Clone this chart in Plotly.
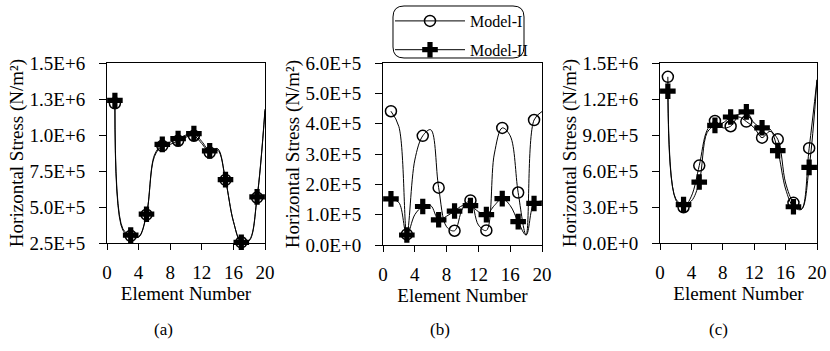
import plotly.graph_objects as go

# ---------------- data ----------------
elements = list(range(1, 21))
x_tick_vals = [0, 4, 8, 12, 16, 20]
x_tick_text = ["0", "4", "8", "12", "16", "20"]

a_model1 = [1.22e6, 3.4e5, 3.0e5, 2.9e5, 4.47e5, 8.5e5, 9.25e5, 9.35e5, 9.6e5, 9.85e5,
            9.95e5, 9.4e5, 8.78e5, 8.95e5, 6.88e5, 4.0e5, 2.55e5, 2.65e5, 5.65e5, 1.17e6]
a_model2 = [1.24e6, 3.5e5, 3.05e5, 2.95e5, 4.5e5, 8.6e5, 9.35e5, 9.5e5, 9.75e5, 1.0e6,
            1.01e6, 9.55e5, 8.9e5, 9.05e5, 6.9e5, 4.0e5, 2.55e5, 2.7e5, 5.7e5, 1.18e6]

b_model1 = [4.41e5, 3.9e5, 3.5e4, 2.8e5, 3.6e5, 3.8e5, 1.89e5, 6.0e4, 4.7e4, 1.2e5,
            1.47e5, 6.6e4, 4.8e4, 3.0e5, 3.86e5, 3.6e5, 1.73e5, 3.3e4, 4.12e5, 4.4e5]
b_model2 = [1.52e5, 1.4e5, 3.3e4, 1.0e5, 1.27e5, 1.3e5, 8.3e4, 9.5e4, 1.12e5, 1.3e5,
            1.3e5, 1.1e5, 1.0e5, 1.3e5, 1.53e5, 1.3e5, 7.7e4, 3.3e4, 1.37e5, 1.45e5]

c_model1 = [1.385e6, 3.6e5, 2.98e5, 3.9e5, 6.45e5, 9.4e5, 1.017e6, 9.6e5, 9.73e5, 1.05e6,
            1.012e6, 9.6e5, 8.78e5, 9.3e5, 8.64e5, 5.0e5, 3.35e5, 2.8e5, 7.9e5, 1.36e6]
c_model2 = [1.265e6, 3.7e5, 3.2e5, 3.5e5, 5.08e5, 9.2e5, 9.8e5, 1.0e6, 1.05e6, 1.07e6,
            1.093e6, 1.0e6, 9.6e5, 9.5e5, 7.7e5, 4.5e5, 3.02e5, 2.8e5, 6.3e5, 1.36e6]

ya_vals = [2.5e5, 5.0e5, 7.5e5, 1.0e6, 1.25e6, 1.5e6]
ya_text = ["2.5E+5", "5.0E+5", "7.5E+5", "1.0E+6", "1.3E+6", "1.5E+6"]
yb_vals = [0, 1e5, 2e5, 3e5, 4e5, 5e5, 6e5]
yb_text = ["0.0E+0", "1.0E+5", "2.0E+5", "3.0E+5", "4.0E+5", "5.0E+5", "6.0E+5"]
yc_vals = [0, 3e5, 6e5, 9e5, 1.2e6, 1.5e6]
yc_text = ["0.0E+0", "3.0E+5", "6.0E+5", "9.0E+5", "1.2E+6", "1.5E+6"]

series_names = ["Model-I", "Model-II"]
panel_labels = ["(a)", "(b)", "(c)"]
x_title = "Element Number"
y_title = "Horizontal Stress (N/m²)"

# ---------------- figure ----------------
W, H = 830, 351
FONT = "Liberation Serif, Times New Roman, DejaVu Serif, serif"

fig = go.Figure()

panels = [
    ("x", "y", a_model1, a_model2),
    ("x2", "y2", b_model1, b_model2),
    ("x3", "y3", c_model1, c_model2),
]

styles = [
    dict(symbol="circle-open", size=11, color="black", line=dict(width=1.5, color="black")),
    dict(symbol="cross", size=13, color="black", line=dict(width=0)),
]

for xa, ya, m1, m2 in panels:
    for k, vals in enumerate([m1, m2]):
        fig.add_trace(go.Scatter(
            x=elements, y=vals, mode="lines", xaxis=xa, yaxis=ya,
            line=dict(color="black", width=1, shape="spline", smoothing=1),
            showlegend=False, hoverinfo="skip"))
        fig.add_trace(go.Scatter(
            x=elements[::2], y=vals[::2], mode="markers", xaxis=xa, yaxis=ya,
            marker=styles[k], cliponaxis=False, showlegend=False,
            name=series_names[k]))

# legend entries
for k, nm in enumerate(series_names):
    fig.add_trace(go.Scatter(
        x=[None], y=[None], mode="lines+markers", name=nm, xaxis="x2", yaxis="y2",
        line=dict(color="black", width=1), marker=styles[k],
        legendgroup=nm, showlegend=True))


def px_dom_x(a, b):
    return [a / W, b / W]


def px_dom_y(top, bottom):
    return [1 - bottom / H, 1 - top / H]


axis_common = dict(
    showline=True, linecolor="black", linewidth=1, mirror=True,
    ticks="outside", tickcolor="black", tickwidth=1,
    showgrid=False, zeroline=False, automargin=False,
    tickfont=dict(family=FONT, size=19, color="black"),
)

xdoms = [px_dom_x(107, 265), px_dom_x(383, 542), px_dom_x(660, 817)]
ydoms = [px_dom_y(63, 243), px_dom_y(63, 245), px_dom_y(63, 243)]
yranges = [[2.5e5, 1.5e6], [0, 6e5], [0, 1.5e6]]
yticks = [(ya_vals, ya_text), (yb_vals, yb_text), (yc_vals, yc_text)]

for i in range(3):
    sx = "xaxis" if i == 0 else f"xaxis{i+1}"
    sy = "yaxis" if i == 0 else f"yaxis{i+1}"
    anchor_x = "y" if i == 0 else f"y{i+1}"
    anchor_y = "x" if i == 0 else f"x{i+1}"
    fig.layout[sx] = dict(
        axis_common, domain=xdoms[i], anchor=anchor_x, range=[0, 20],
        tickvals=x_tick_vals, ticktext=x_tick_text, ticklen=6,
        ticklabelstandoff=6,
        title=dict(text=x_title, font=dict(family=FONT, size=19, color="black"), standoff=1),
    )
    fig.layout[sy] = dict(
        axis_common, domain=ydoms[i], anchor=anchor_y, range=yranges[i],
        tickvals=yticks[i][0], ticktext=yticks[i][1], ticklen=7,
        ticklabelstandoff=10,
        title=dict(text=y_title, font=dict(family=FONT, size=19, color="black"), standoff=0),
    )

# subplot labels
label_x_px = [163, 440, 718]
for lbl, xp in zip(panel_labels, label_x_px):
    fig.add_annotation(text=lbl, x=xp / W, y=1 - 329 / H, xref="paper", yref="paper",
                       xanchor="center", yanchor="middle",
                       showarrow=False, font=dict(family=FONT, size=17, color="black"))

# rounded legend box
x0, y0, x1, y1, r = 393, 6, 524, 58, 11


def P(x, y):
    return f"{x / W:.5f},{1 - y / H:.5f}"


path = (f"M {P(x0 + r, y0)} L {P(x1 - r, y0)} Q {P(x1, y0)} {P(x1, y0 + r)} "
        f"L {P(x1, y1 - r)} Q {P(x1, y1)} {P(x1 - r, y1)} "
        f"L {P(x0 + r, y1)} Q {P(x0, y1)} {P(x0, y1 - r)} "
        f"L {P(x0, y0 + r)} Q {P(x0, y0)} {P(x0 + r, y0)} Z")
fig.add_shape(type="path", path=path, xref="paper", yref="paper",
              line=dict(color="black", width=1), fillcolor="rgba(0,0,0,0)")

fig.update_layout(
    width=W, height=H,
    margin=dict(l=0, r=0, t=0, b=0, autoexpand=False),
    paper_bgcolor="white", plot_bgcolor="white",
    font=dict(family=FONT, color="black"),
    showlegend=True,
    legend=dict(x=390 / W, y=1 - 4 / H, xanchor="left", yanchor="top",
                bgcolor="rgba(0,0,0,0)", borderwidth=0,
                font=dict(family=FONT, size=16, color="black"),
                traceorder="grouped", tracegroupgap=5, itemwidth=70),
)

fig.write_html("out.html")
